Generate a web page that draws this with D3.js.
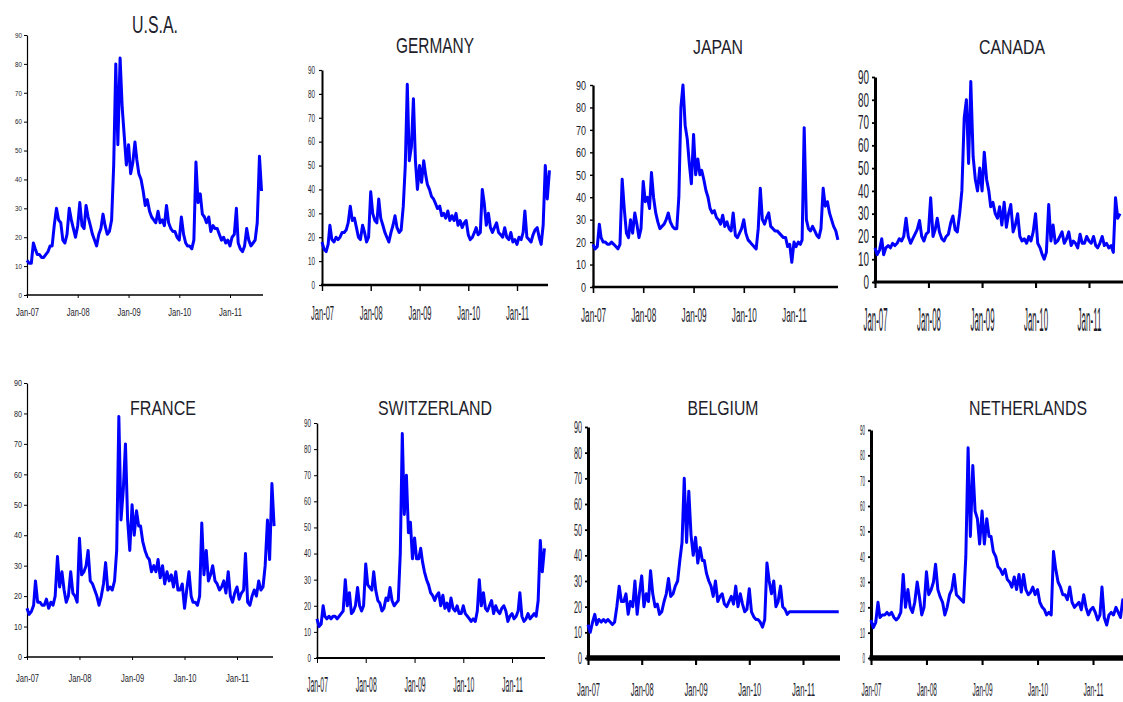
<!DOCTYPE html>
<html>
<head>
<meta charset="utf-8">
<script src="https://cdn.jsdelivr.net/npm/d3@7"></script>
<style>
  html, body { margin: 0; padding: 0; background: #fff; }
  svg { display: block; background: #fff; }
  text { font-family: "Liberation Sans Narrow", "Liberation Sans", Arial, sans-serif; fill: #1d1d2b; }
</style>
</head>
<body>
<svg id="chart" width="1123" height="702"></svg>
<script>
// implied volatility, two readings a month (1st and 16th) from Jan 2007
const titles = ["U.S.A.", "GERMANY", "JAPAN", "CANADA", "FRANCE", "SWITZERLAND", "BELGIUM", "NETHERLANDS"];

const usa = [
  12,11, 11,18, 16,14, 14,13, 13,14, 15,17, 17,24, 30,26, 25,19, 18,21, 30,26, 23,20,
  24,32, 24,23, 31,27, 24,21, 19,17, 21,23, 28,24, 21,22, 26,45, 80,52, 82,65, 55,45,
  52,42, 46,53, 47,42, 40,36, 31,33, 29,27, 26,25, 29,25, 26,24, 31,25, 23,22, 22,20,
  19,27, 21,18, 17,17, 16,19, 46,32, 35,28, 27,25, 27,22, 24,23, 23,21, 19,20, 18,19,
  17,20, 21,30, 18,16, 15,17, 23,19, 17,18, 19,25, 48,36
];
const germany = [
  18,15, 14,17, 25,19, 18,20, 19,20, 22,22, 23,26, 33,27, 28,24, 20,19, 25,22, 18,20,
  39,30, 27,26, 36,28, 25,22, 20,18, 22,25, 29,24, 22,23, 33,50, 84,52, 58,78, 52,40,
  50,43, 52,46, 42,40, 37,36, 34,32, 33,29, 30,28, 31,27, 29,27, 30,25, 27,24, 26,27,
  21,19, 20,22, 24,21, 22,40, 34,25, 30,24, 22,24, 26,22, 21,20, 24,20, 19,22, 18,19,
  17,20, 19,22, 31,20, 19,18, 21,23, 24,20, 17,25, 50,36, 48
];
const japan = [
  19,17, 18,28, 22,20, 20,19, 19,20, 19,18, 17,19, 48,35, 24,22, 30,24, 33,28, 22,26,
  47,38, 40,35, 51,40, 33,29, 26,27, 28,30, 33,29, 27,26, 26,40, 80,90, 72,66, 55,46,
  68,50, 57,50, 52,48, 43,40, 35,33, 34,31, 30,28, 32,27, 29,26, 25,33, 23,22, 24,26,
  30,24, 21,20, 19,18, 17,26, 44,30, 28,31, 33,27, 26,25, 25,24, 23,22, 22,18, 19,11,
  20,18, 20,19, 21,71, 30,26, 25,27, 25,23, 22,26, 44,36, 38,33, 30,27, 25,21
];
const canada = [
  15,12, 14,19, 12,15, 16,15, 17,16, 17,19, 18,20, 28,20, 17,19, 21,23, 27,20, 18,21,
  22,37, 20,23, 28,22, 19,18, 20,21, 26,29, 23,22, 30,40, 72,80, 52,88, 55,45,
  40,50, 40,57, 45,40, 33,35, 30,28, 33,25, 35,24, 30,34, 22,25, 30,20, 18,19, 17,20,
  18,22, 30,17, 15,12, 10,13, 34,18, 25,17, 18,20, 22,17, 19,22, 16,18, 17,15, 21,17,
  17,20, 18,17, 20,16, 15,17, 20,16, 17,15, 16,13, 37,28, 30
];
const france = [
  16,14, 15,17, 25,18, 18,17, 17,19, 16,18, 17,20, 33,23, 28,22, 18,20, 28,21, 20,18,
  39,27, 28,30, 35,25, 24,22, 20,17, 20,24, 31,22, 23,22, 25,35, 79,45, 55,70, 45,35,
  50,40, 48,43, 43,38, 35,33, 32,28, 30,28, 32,26, 30,24, 28,25, 27,23, 28,22, 22,24,
  16,22, 28,20, 18,18, 17,20, 44,27, 35,25, 27,30, 25,24, 22,23, 25,21, 28,20, 18,21,
  23,19, 21,22, 34,18, 17,20, 22,20, 25,22, 23,30, 45,32, 57,43
];
const switzerland = [
  15,12, 13,20, 16,15, 16,15, 16,16, 15,16, 17,18, 30,20, 25,17, 18,20, 27,20, 18,20,
  36,28, 27,26, 33,26, 22,21, 18,19, 23,22, 27,22, 20,21, 22,40, 86,55, 70,48, 52,38,
  46,38, 38,42, 37,33, 30,28, 25,24, 22,24, 25,20, 24,19, 21,18, 23,19, 18,20, 17,17,
  20,17, 16,15, 14,15, 14,18, 30,20, 25,19, 18,20, 22,17, 20,18, 17,19, 20,18, 14,16,
  17,15, 16,18, 25,16, 14,15, 17,15, 16,17, 16,22, 45,33, 42
];
const belgium = [
  13,10, 14,17, 13,15, 14,15, 14,15, 14,13, 14,20, 28,22, 22,25, 17,22, 20,30, 17,25,
  32,20, 25,22, 34,25, 20,21, 17,18, 22,25, 31,24, 25,28, 30,38, 45,70, 45,65, 48,40,
  47,37, 43,38, 38,33, 30,28, 24,30, 22,24, 25,21, 20,22, 24,21, 28,20, 25,21, 18,19,
  27,18, 16,15, 15,14, 12,15, 37,30, 25,30, 20,22, 28,20, 19,17, 18,18, 18,18, 18,18,
  18,18, 18,18, 18,18, 18,18, 18,18, 18,18, 18,18, 18,18, 18
];
const netherlands = [
  15,12, 14,22, 16,17, 17,18, 17,18, 16,15, 16,18, 33,20, 27,20, 18,22, 30,24, 17,20,
  34,25, 27,30, 37,27, 24,22, 17,20, 25,27, 33,25, 24,23, 22,40, 83,48, 76,58, 55,45,
  58,45, 55,48, 48,42, 40,36, 35,33, 35,31, 30,28, 32,27, 33,26, 33,27, 25,26, 28,25,
  27,22, 20,19, 17,18, 17,42, 35,30, 28,25, 25,23, 28,22, 20,21, 22,19, 25,20, 17,19,
  20,18, 15,17, 28,16, 13,17, 18,17, 20,18, 16,23, 20
];

const series = [usa, germany, japan, canada, france, switzerland, belgium, netherlands];
const yTicks = [0, 10, 20, 30, 40, 50, 60, 70, 80, 90];
const xTickYears = [2007, 2008, 2009, 2010, 2011];
const xTickLabels = ["Jan-07", "Jan-08", "Jan-09", "Jan-10", "Jan-11"];

// each panel was pasted at its own size, so every one gets its own box
// x0/x1: Jan-07 / Jan-11, yTop/yBot: 90 / 0, t*: title, y*: value labels, x*: date labels
const panels = [
  {x0: 27,  x1: 230,  xEnd: 263,  yTop: 35,  yBot: 295, tx: 155,  ty: 33,  tw: 46,  th: 16.5, yh: 5,    yw: 7,  yr: 22,  xh: 7.5, xw: 23, xb: 316, aw: 1.2, bw: 1.3, tk: 3},
  {x0: 322, x1: 517,  xEnd: 548,  yTop: 70,  yBot: 285, tx: 435,  ty: 53,  tw: 78,  th: 16,   yh: 7.3,  yw: 7,  yr: 315, xh: 14,  xw: 23, xb: 320, aw: 2,   bw: 2.5, tk: 6},
  {x0: 593, x1: 794,  xEnd: 838,  yTop: 85,  yBot: 287, tx: 718,  ty: 54,  tw: 50,  th: 14.5, yh: 9.5,  yw: 10, yr: 586, xh: 14,  xw: 25, xb: 322, aw: 2.3, bw: 2.5, tk: 6},
  {x0: 875, x1: 1089, xEnd: 1130, yTop: 77,  yBot: 282, tx: 1012, ty: 54,  tw: 66,  th: 15,   yh: 14,   yw: 11, yr: 869, xh: 24,  xw: 24, xb: 331, aw: 3,   bw: 3,   tk: 6},
  {x0: 27,  x1: 237,  xEnd: 273,  yTop: 383, yBot: 657, tx: 163,  ty: 415, tw: 66,  th: 15,   yh: 6,    yw: 8,  yr: 22,  xh: 8,   xw: 23, xb: 682, aw: 1.2, bw: 1.5, tk: 3},
  {x0: 317, x1: 512,  xEnd: 545,  yTop: 423, yBot: 658, tx: 435,  ty: 415, tw: 114, th: 15,   yh: 7.5,  yw: 7,  yr: 311, xh: 16,  xw: 21, xb: 692, aw: 1.5, bw: 2,   tk: 5},
  {x0: 588, x1: 803,  xEnd: 840,  yTop: 427, yBot: 658, tx: 723,  ty: 415, tw: 71,  th: 15,   yh: 12,   yw: 8,  yr: 582, xh: 13,  xw: 23, xb: 696, aw: 3,   bw: 5.5, tk: 7},
  {x0: 871, x1: 1093, xEnd: 1130, yTop: 430, yBot: 658, tx: 1028, ty: 415, tw: 118, th: 15,   yh: 10,   yw: 5,  yr: 865, xh: 13,  xw: 20, xb: 696, aw: 3,   bw: 5.5, tk: 7}
];

const CAP = 0.716;
const dateAt = i => new Date(2007, Math.floor(i / 2), i % 2 ? 16 : 1);

// squeeze a text sideways around (tx, ty) by sx
function squeeze(sel, tx, ty, sx) {
  sel.attr("x", 0).attr("y", 0)
    .attr("transform", `translate(${tx},${ty}) scale(${sx},1)`);
}

const svg = d3.select("#chart");

panels.forEach((p, k) => {
  const data = series[k];
  const g = svg.append("g");

  const x = d3.scaleTime()
    .domain([new Date(2007, 0, 1), new Date(2011, 0, 1)])
    .range([p.x0, p.x1]);
  const y = d3.scaleLinear().domain([0, 90]).range([p.yBot, p.yTop]);

  // title
  const t = g.append("text")
    .attr("text-anchor", "middle")
    .style("font-size", (p.th / CAP) + "px")
    .text(titles[k]);
  squeeze(t, p.tx, p.ty, p.tw / t.node().getComputedTextLength());

  // y axis
  const ya = g.append("g")
    .attr("transform", `translate(${p.x0},0)`)
    .call(d3.axisLeft(y).tickValues(yTicks).tickSize(3).tickSizeOuter(0));
  ya.select(".domain").attr("stroke", "#000").attr("stroke-width", p.aw);
  ya.selectAll(".tick line").attr("stroke", "#000").attr("stroke-width", Math.max(1, p.aw * 0.6));
  const yl = ya.selectAll(".tick text")
    .attr("fill", "#1d1d2b")
    .style("font-size", (p.yh / CAP) + "px")
    .style("font-family", null);
  const sy = p.yw / yl.filter(d => d === 90).node().getComputedTextLength();
  yl.each(function() { squeeze(d3.select(this), p.yr - p.x0, 0, sy); });

  // x axis
  const xa = g.append("g")
    .attr("transform", `translate(0,${p.yBot})`)
    .call(d3.axisBottom(x)
      .tickValues(xTickYears.map(yr => new Date(yr, 0, 1)))
      .tickFormat((d, i) => xTickLabels[i])
      .tickSize(p.tk).tickSizeOuter(0));
  xa.select(".domain").remove();
  xa.selectAll(".tick line").attr("stroke", "#000").attr("stroke-width", Math.max(1, p.aw * 0.7));
  const xl = xa.selectAll(".tick text")
    .attr("dy", 0)
    .attr("fill", "#1d1d2b")
    .style("font-size", (p.xh / CAP) + "px")
    .style("font-family", null);
  xl.each(function() {
    squeeze(d3.select(this), 0, p.xb - p.yBot, p.xw / this.getComputedTextLength());
  });
  g.append("line")
    .attr("x1", p.x0 - p.aw / 2).attr("x2", p.xEnd)
    .attr("y1", p.yBot).attr("y2", p.yBot)
    .attr("stroke", "#000").attr("stroke-width", p.bw);

  // series
  const line = d3.line()
    .x((d, i) => x(dateAt(i)))
    .y(d => y(d));
  g.append("path")
    .datum(data)
    .attr("d", line)
    .attr("fill", "none")
    .attr("stroke", "#0000ff")
    .attr("stroke-width", 3)
    .attr("stroke-linejoin", "round");
});
</script>
</body>
</html>
